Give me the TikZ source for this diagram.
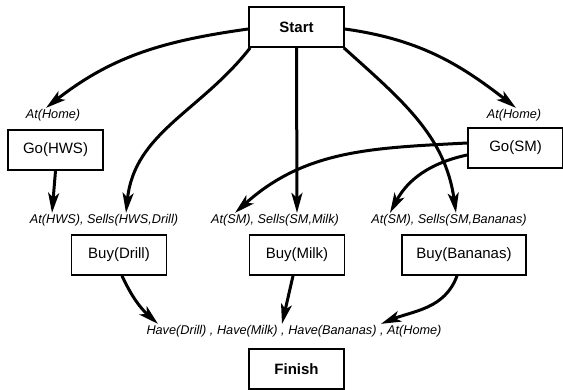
\documentclass[tikz,border=0pt]{standalone}
\usepackage{fontspec}
\setmainfont{Liberation Sans}
\usetikzlibrary{arrows.meta}

\begin{document}
\begin{tikzpicture}[x=1pt,y=1pt,
        act/.style={draw,line width=1.7pt,minimum width=95pt,minimum height=40pt,inner xsep=13pt,font=\fontsize{15}{18}\selectfont},
        cond/.style={inner sep=1pt,font=\fontsize{12.7}{15}\selectfont\itshape},
        link/.style={line width=3pt,-{Stealth[length=20pt,width=11pt,inset=5pt]}}]
            \useasboundingbox (0,0) rectangle (563,-390);

            \node[act,font=\fontsize{15}{18}\selectfont\bfseries] (start) at (296.5,-27) {Start};
            \node[act] (gohws) at (55.5,-150) {Go(HWS)};
            \node[act] (gosm) at (515.5,-148) {Go(SM)};
            \node[act] (buydrill) at (119,-255) {Buy(Drill)};
            \node[act] (buymilk) at (297,-255) {Buy(Milk)};
            \node[act,minimum width=124pt] (buybananas) at (464,-255) {Buy(Bananas)};
            \node[act,font=\fontsize{15}{18}\selectfont\bfseries] (finish) at (296.5,-369) {Finish};

            \node[cond] (homel) at (53,-115) {At(Home)};
            \node[cond] (homer) at (514,-115) {At(Home)};
            \node[cond] (predrill) at (104,-220) {At(HWS), Sells(HWS,Drill)};
            \node[cond] (premilk) at (275,-220) {At(SM), Sells(SM,Milk)};
            \node[cond] (prebananas) at (449,-220) {At(SM), Sells(SM,Bananas)};
            \node[cond] (goal) at (294,-331) {Have(Drill) , Have(Milk) , Have(Bananas) , At(Home)};

            \draw[link] ([yshift=-2pt]start.west) to[out=188,in=38] ([xshift=-7pt]homel.north);
            \draw[link] ([yshift=-2pt]start.east) to[out=-8,in=142] ([xshift=2pt]homer.north);
            \draw[link] ([xshift=2pt]start.south west) to[out=232,in=84] ([xshift=22pt]predrill.north);
            \draw[link] (start.south) to ([xshift=22pt]premilk.north);
            \draw[link] ([xshift=-1pt]start.south east) to[out=-42,in=98] ([xshift=7pt]prebananas.north);

            \draw[link] (gohws.south) to ([xshift=-52pt]predrill.north);
            \draw[link] ([yshift=5pt]gosm.west) to[out=183,in=42] ([xshift=-40pt]premilk.north);
            \draw[link] ([yshift=-7pt]gosm.west) to[out=192,in=62] ([xshift=-59pt]prebananas.north);

            \draw[link] ([xshift=3pt]buydrill.south) to[out=-65,in=138] ([xshift=-136pt]goal.north);
            \draw[link] ([xshift=-4pt]buymilk.south) to ([xshift=-12pt]goal.north);
            \draw[link] ([xshift=-7pt]buybananas.south) to[out=-110,in=22] ([xshift=87pt]goal.north);
        \end{tikzpicture}
\end{document}
